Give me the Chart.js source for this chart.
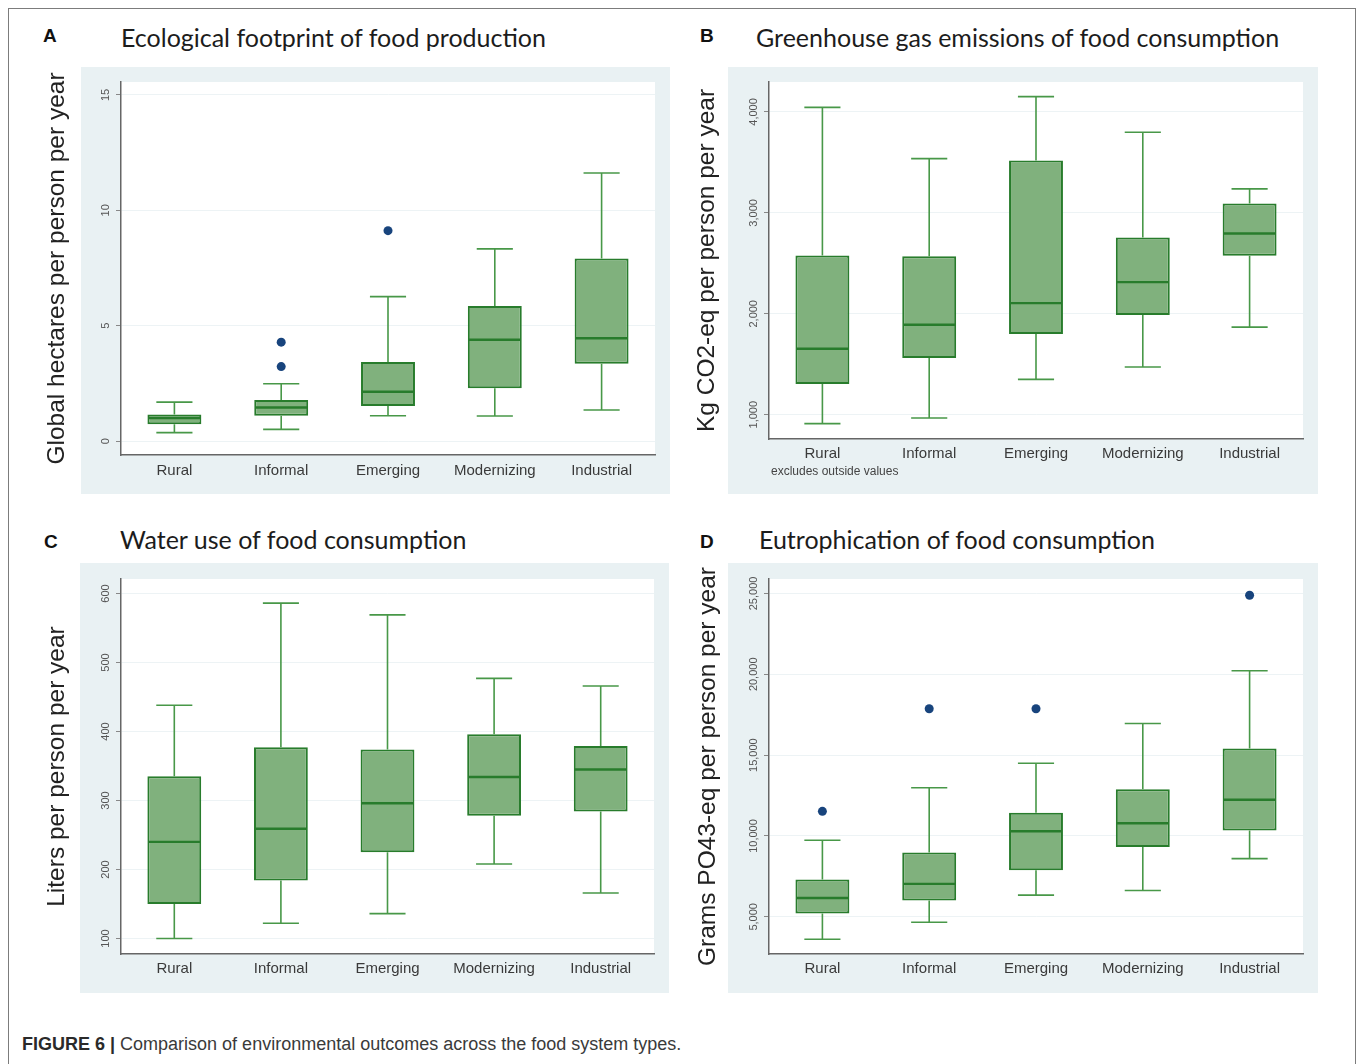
<!DOCTYPE html>
<html>
<head>
<meta charset="utf-8">
<script src="https://cdn.jsdelivr.net/npm/chart.js@4.4.1/dist/chart.umd.min.js"></script>
<style>
  html, body { margin:0; padding:0; background:#fff; }
  body { width:1358px; height:1064px; position:relative; overflow:hidden; font-family:"Liberation Sans", Arial, sans-serif; }
  .border { position:absolute; left:8px; top:8px; width:1348px; height:1120px; border:1px solid #7c7c7c; box-sizing:border-box; }
  .frame { position:absolute; background:#e9f1f3; }
  .letter { position:absolute; font:bold 19px "Liberation Sans", Arial, sans-serif; color:#111; line-height:19px; }
  .title { position:absolute; font:25px Lato, "Open Sans", sans-serif; color:#1c1c1c; line-height:25px; white-space:nowrap; }
  canvas { position:absolute; }
  .note { position:absolute; font:12px "Liberation Sans", Arial, sans-serif; color:#444; line-height:12px; white-space:nowrap; }
  .caption { position:absolute; left:22px; top:1034px; font:18px "Liberation Sans", Arial, sans-serif; color:#3a3a3a; line-height:20px; white-space:nowrap; }
  .caption b { color:#2a2a2a; }
</style>
</head>
<body>
<div class="border"></div>

<div class="frame" style="left:81px;top:67px;width:589px;height:427px"></div>
<div class="frame" style="left:728px;top:67px;width:590px;height:427px"></div>
<div class="frame" style="left:80px;top:563px;width:589px;height:430px"></div>
<div class="frame" style="left:728px;top:563px;width:590px;height:430px"></div>

<div class="letter" style="left:43px;top:26px">A</div>
<div class="title" style="left:121px;top:25px">Ecological footprint of food production</div>
<div class="letter" style="left:700px;top:26px">B</div>
<div class="title" style="left:756px;top:25px">Greenhouse gas emissions of food consumption</div>
<div class="letter" style="left:44px;top:532px">C</div>
<div class="title" style="left:120px;top:527px">Water use of food consumption</div>
<div class="letter" style="left:700px;top:532px">D</div>
<div class="title" style="left:759px;top:527px">Eutrophication of food consumption</div>

<canvas id="cA" width="640" height="440" style="left:30px;top:60px"></canvas>
<canvas id="cB" width="630" height="440" style="left:690px;top:60px"></canvas>
<canvas id="cC" width="640" height="440" style="left:30px;top:560px"></canvas>
<canvas id="cD" width="630" height="440" style="left:690px;top:560px"></canvas>

<div class="note" style="left:771px;top:465px">excludes outside values</div>
<div class="caption"><b>FIGURE 6 |</b> Comparison of environmental outcomes across the food system types.</div>

<script>
// ---------- DATA ----------
const categories = ['Rural', 'Informal', 'Emerging', 'Modernizing', 'Industrial'];

// A: Ecological footprint (global hectares per person per year)
const A_min = [0.37, 0.51, 1.10, 1.09, 1.35];
const A_q1  = [0.73, 1.10, 1.52, 2.29, 3.35];
const A_med = [1.00, 1.46, 2.14, 4.39, 4.46];
const A_q3  = [1.15, 1.78, 3.43, 5.86, 7.91];
const A_max = [1.69, 2.49, 6.26, 8.33, 11.62];
const A_out = [[], [4.29, 3.23], [9.12], [], []];
const A_ticks = [0, 5, 10, 15];
const A_range = [-0.6, 15.56];

// B: GHG emissions (kg CO2-eq per person per year)
const B_min = [911, 967, 1350, 1472, 1868];
const B_q1  = [1304, 1561, 1799, 1987, 2574];
const B_med = [1653, 1891, 2106, 2314, 2795];
const B_q3  = [2577, 2571, 3518, 2756, 3092];
const B_max = [4046, 3538, 4152, 3799, 3238];
const B_out = [[], [], [], [], []];
const B_ticks = [1000, 2000, 3000, 4000];
const B_range = [759, 4297];

// C: Water use (liters per person per year)
const C_min = [100, 122, 136, 208, 166];
const C_q1  = [150, 184, 225, 278, 284];
const C_med = [240, 259, 296, 334, 345];
const C_q3  = [335, 377, 374, 396, 379];
const C_max = [438, 586, 569, 477, 466];
const C_out = [[], [], [], [], []];
const C_ticks = [100, 200, 300, 400, 500, 600];
const C_range = [77.5, 621];

// D: Eutrophication (grams PO43-eq per person per year)
const D_min = [3614, 4665, 6341, 6631, 8598];
const D_q1  = [5201, 6006, 7883, 9313, 10341];
const D_med = [6162, 7034, 10296, 10788, 12241];
const D_q3  = [7302, 8978, 11436, 12888, 15414];
const D_max = [9737, 12978, 14497, 16955, 20218];
const D_out = [[11525], [17872], [17872], [], [24888]];
const D_ticks = [5000, 10000, 15000, 20000, 25000];
const D_range = [2699, 25894];

// ---------- STYLE ----------
const BOX_FILL = 'rgb(128,177,125)';
const BOX_EDGE = 'rgb(40,124,44)';
const WHISK = 'rgb(72,152,72)';
const OUT_COL = 'rgb(24,68,125)';

Chart.defaults.font.family = '"Liberation Sans", Arial, sans-serif';

const plotBg = {
  id: 'plotBg',
  beforeDraw(chart) {
    const {ctx, chartArea: a} = chart;
    ctx.save();
    ctx.fillStyle = '#ffffff';
    ctx.fillRect(a.left, a.top, a.right - a.left, a.bottom - a.top);
    ctx.restore();
  }
};

const boxWhisk = {
  id: 'boxWhisk',
  afterDatasetsDraw(chart, args, opts) {
    const {ctx} = chart;
    const y = chart.scales.y;
    const meta = chart.getDatasetMeta(0);
    ctx.save();
    meta.data.forEach((bar, i) => {
      const cx = bar.x, w = bar.width;
      const cap = w * 0.335;
      const pMin = y.getPixelForValue(opts.min[i]);
      const pMax = y.getPixelForValue(opts.max[i]);
      const pQ1 = y.getPixelForValue(opts.q1[i]);
      const pQ3 = y.getPixelForValue(opts.q3[i]);
      const pMed = y.getPixelForValue(opts.med[i]);
      ctx.strokeStyle = WHISK;
      ctx.lineWidth = 1.6;
      ctx.beginPath();
      ctx.moveTo(cx, pQ3); ctx.lineTo(cx, pMax);
      ctx.moveTo(cx - cap, pMax); ctx.lineTo(cx + cap, pMax);
      ctx.moveTo(cx, pQ1); ctx.lineTo(cx, pMin);
      ctx.moveTo(cx - cap, pMin); ctx.lineTo(cx + cap, pMin);
      ctx.stroke();
      ctx.strokeStyle = BOX_EDGE;
      ctx.lineWidth = 2.4;
      ctx.beginPath();
      ctx.moveTo(cx - w / 2 + 1, pMed); ctx.lineTo(cx + w / 2 - 1, pMed);
      ctx.stroke();
    });
    ctx.restore();
  }
};

const yLabels = {
  id: 'yLabels',
  afterDraw(chart) {
    const {ctx, chartArea: a} = chart;
    const y = chart.scales.y;
    ctx.save();
    ctx.fillStyle = '#555';
    ctx.font = '11px "Liberation Sans", Arial, sans-serif';
    ctx.textAlign = 'center';
    ctx.textBaseline = 'middle';
    y.ticks.forEach(t => {
      const py = y.getPixelForValue(t.value);
      ctx.save();
      ctx.translate(a.left - 15, py);
      ctx.rotate(-Math.PI / 2);
      ctx.fillText(t.value.toLocaleString('en-US'), 0, 0);
      ctx.restore();
    });
    ctx.restore();
  }
};

function makeChart(id, d, p) {
  const outPts = d.out.flatMap((arr, i) => arr.map(v => ({x: categories[i], y: v})));
  return new Chart(document.getElementById(id), {
    type: 'bar',
    data: {
      labels: categories,
      datasets: [
        {
          type: 'bar',
          data: categories.map((c, i) => [d.q1[i], d.q3[i]]),
          backgroundColor: BOX_FILL,
          borderColor: BOX_EDGE,
          borderWidth: 2,
          borderSkipped: false,
          barPercentage: 0.505,
          categoryPercentage: 1.0
        },
        {
          type: 'line',
          data: outPts,
          showLine: false,
          pointRadius: 4.5,
          pointHoverRadius: 4.5,
          pointBackgroundColor: OUT_COL,
          pointBorderWidth: 0
        }
      ]
    },
    options: {
      responsive: false,
      animation: false,
      devicePixelRatio: 1,
      layout: { padding: p.pad },
      plugins: {
        legend: { display: false },
        tooltip: { enabled: false },
        boxWhisk: { min: d.min, q1: d.q1, med: d.med, q3: d.q3, max: d.max }
      },
      scales: {
        x: {
          grid: { display: false, drawTicks: false },
          border: { display: true, color: '#666', width: 1.5 },
          ticks: { color: '#3a3a3a', font: { size: 15 }, padding: p.xpad, maxRotation: 0 },
          afterFit: s => { s.height = p.xh; }
        },
        y: {
          min: d.range[0],
          max: d.range[1],
          afterBuildTicks: s => { s.ticks = d.ticks.map(v => ({value: v})); },
          grid: { color: '#edf3f5', lineWidth: 1, tickLength: 5, tickColor: '#888', drawTicks: true },
          border: { display: true, color: '#666', width: 1.5 },
          ticks: { display: false },
          title: {
            display: true,
            text: p.ytitle,
            color: '#222',
            font: { size: 24.5, lineHeight: 1 },
            padding: { top: p.tpad, bottom: 0 }
          },
          afterFit: s => { s.width = p.yw; }
        }
      }
    },
    plugins: [plotBg, boxWhisk, yLabels]
  });
}

makeChart('cA', {min: A_min, q1: A_q1, med: A_med, q3: A_q3, max: A_max, out: A_out, ticks: A_ticks, range: A_range},
  {pad: {left: 0, right: 15, top: 22, bottom: 5}, xh: 40, yw: 91, xpad: 7, tpad: 15, ytitle: 'Global hectares per person per year'});
makeChart('cB', {min: B_min, q1: B_q1, med: B_med, q3: B_q3, max: B_max, out: B_out, ticks: B_ticks, range: B_range},
  {pad: {left: 0, right: 17, top: 22, bottom: 5}, xh: 56, yw: 79, xpad: 6, tpad: 5, ytitle: 'Kg CO2-eq per person per year'});
makeChart('cC', {min: C_min, q1: C_q1, med: C_med, q3: C_q3, max: C_max, out: C_out, ticks: C_ticks, range: C_range},
  {pad: {left: 0, right: 16, top: 19, bottom: 5}, xh: 41, yw: 91, xpad: 6, tpad: 15, ytitle: 'Liters per person per year'});
makeChart('cD', {min: D_min, q1: D_q1, med: D_med, q3: D_q3, max: D_max, out: D_out, ticks: D_ticks, range: D_range},
  {pad: {left: 0, right: 17, top: 19, bottom: 5}, xh: 41, yw: 79, xpad: 6, tpad: 6, ytitle: 'Grams PO43-eq per person per year'});
</script>
</body>
</html>
